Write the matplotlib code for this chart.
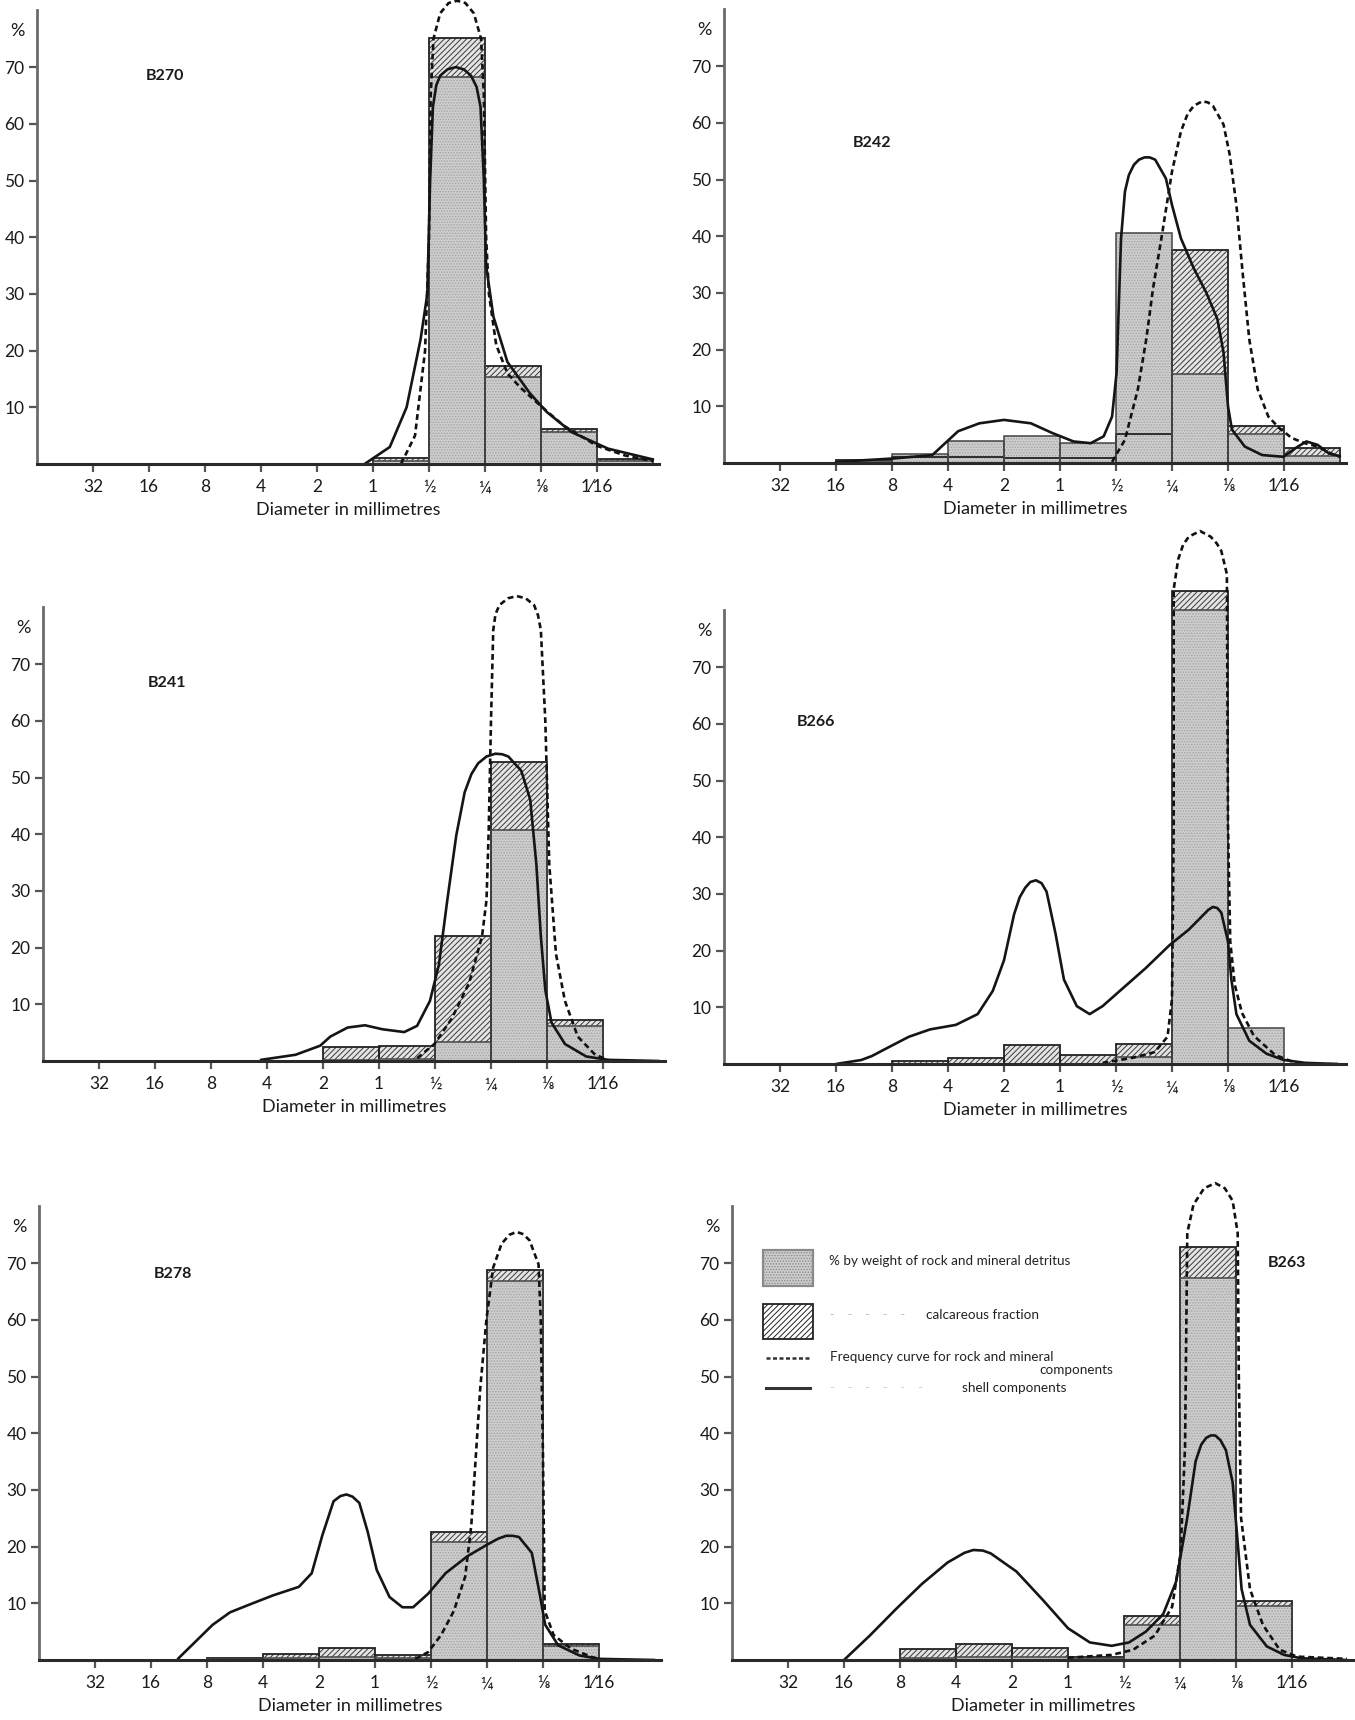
import matplotlib
matplotlib.use("Agg")
from matplotlib import pyplot as plt
from matplotlib.patches import Rectangle

plt.rcParams["font.family"] = ["Lato", "DejaVu Sans"]
plt.rcParams["hatch.linewidth"] = 0.7

# size classes in phi units: 32 mm = -5 ... 1/16 mm = 4
tick_phi = [-5, -4, -3, -2, -1, 0, 1, 2, 3, 4]
tick_labels = ["32", "16", "8", "4", "2", "1", "½", "¼", "⅛", "1⁄16"]
y_ticks = [10, 20, 30, 40, 50, 60, 70]

# B270
b270_class = [0, 1, 2, 3, 4]
b270_rock = [0.5, 68.3, 15.4, 5.6, 0.5]
b270_calc = [1.0, 75.1, 17.2, 6.2, 0.9]
b270_rock_x = [0.5, 0.75, 0.93, 1.0, 1.03, 1.08, 1.2, 1.35, 1.5, 1.65, 1.8, 1.93, 1.98, 2.02,
               2.07, 2.2, 2.4, 2.63, 3.0, 3.4, 4.0, 4.5, 5.0]
b270_rock_y = [0, 5, 20, 40, 65, 75, 79.5, 81.3, 81.7, 81.3, 79.5, 75, 65, 40,
               30, 21, 16, 13.5, 10.2, 6.8, 3.2, 1.5, 0.5]
b270_shell_x = [-0.15, 0.3, 0.6, 0.85, 0.97, 1.02, 1.07, 1.13, 1.2, 1.33, 1.48, 1.62, 1.75,
                1.85, 1.92, 1.98, 2.02, 2.15, 2.4, 2.8, 3.1, 3.55, 4.2, 5.0]
b270_shell_y = [0, 3, 10, 22, 30, 50, 63, 66.8, 68.5, 69.6, 70, 69.6, 68.5,
                66.5, 63, 50, 35, 26, 18, 12.5, 9.2, 5.6, 2.7, 0.8]

# B242
b242_class = [-4, -3, -2, -1, 0, 1, 2, 3, 4]
b242_rock = [0.3, 1.5, 3.8, 4.8, 3.5, 40.6, 15.7, 5.1, 1.2]
b242_calc = [0.6, 1.0, 1.0, 0.9, 0.9, 5.2, 37.6, 6.6, 2.6]
b242_rock_x = [0.93, 1.16, 1.39, 1.54, 1.66, 1.81, 2.0, 2.16, 2.28, 2.39, 2.54, 2.64, 2.73,
               2.92, 3.03, 3.15, 3.26, 3.38, 3.53, 3.72, 3.91, 4.14, 4.37, 4.6, 4.83, 5.0]
b242_rock_y = [0.2, 4.1, 13, 21.8, 30.7, 39.6, 51.4, 58.5, 61.6, 63, 63.8, 63.6, 63,
               59.7, 54.4, 45.5, 33.7, 21.8, 13, 8.2, 6.2, 4.4, 3.5, 2.9, 1.7, 1.1]
b242_shell_x = [-4.0, -2.97, -2.28, -2.05, -1.82, -1.44, -1.0, -0.52, -0.14, 0.24, 0.55, 0.78,
                0.93, 1.01, 1.05, 1.09, 1.16, 1.23, 1.32, 1.41, 1.51, 1.60, 1.70, 1.89, 2.0,
                2.16, 2.39, 2.61, 2.81, 2.92, 3.0, 3.07, 3.3, 3.61, 3.99, 4.2, 4.4, 4.6,
                4.8, 5.0]
b242_shell_y = [0.2, 0.8, 1.4, 3.5, 5.6, 7.0, 7.6, 7.0, 5.3, 3.8, 3.5, 4.7,
                8.2, 15.9, 27.8, 39.6, 47.9, 50.8, 52.6, 53.5, 53.9, 53.9, 53.5, 50.2, 45.5,
                39.6, 34.3, 30.1, 25.4, 19.5, 10.0, 5.9, 2.9, 1.4, 1.1, 2.6, 3.8, 3.2,
                1.7, 1.2]

# B241
b241_class = [-1, 0, 1, 2, 3]
b241_rock = [0.2, 0.3, 3.4, 40.7, 6.2]
b241_calc = [2.4, 2.7, 22.0, 52.8, 7.3]
b241_rock_x = [0.68, 0.99, 1.3, 1.61, 1.84, 1.92, 1.96, 2.0, 2.04, 2.08, 2.15, 2.3, 2.46,
               2.62, 2.77, 2.84, 2.89, 2.97, 3.04, 3.16, 3.32, 3.55, 3.86, 4.09]
b241_rock_y = [0.5, 3, 7.5, 13.8, 22, 28.4, 41, 60, 76, 78.8, 80.4, 81.6, 82,
               81.6, 80.4, 78.6, 76, 60, 34.7, 18.9, 10.6, 4.3, 1.1, 0.2]
b241_shell_x = [-2.11, -1.49, -1.05, -0.87, -0.56, -0.25, 0.06, 0.45, 0.68, 0.91, 1.07, 1.22,
                1.38, 1.53, 1.65, 1.77, 1.92, 2.08, 2.2, 2.31, 2.54, 2.7, 2.81, 2.89, 2.97,
                3.08, 3.32, 3.7, 4.09, 5.0]
b241_shell_y = [0.2, 1.1, 2.7, 4.3, 5.9, 6.3, 5.6, 5.1, 6.2, 10.6, 17, 28.4,
                39.8, 47.4, 50.6, 52.5, 53.7, 54.2, 54.1, 53.7, 51.2, 46.1, 34.7, 22, 12.5,
                6.8, 3.0, 0.8, 0.2, 0]

# B266
b266_class = [-3, -2, -1, 0, 1, 2, 3]
b266_rock = [0, 0, 0, 0, 1.2, 80.0, 6.3]
b266_calc = [0.5, 1.1, 3.4, 1.6, 3.6, 83.5, 0]
b266_rock_x = [0.76, 1.3, 1.69, 1.92, 2.0, 2.03, 2.03, 2.11, 2.2, 2.3, 2.5, 2.69, 2.8, 2.88,
               2.98, 3.0, 3.04, 3.12, 3.25, 3.46, 3.84, 4.15]
b266_rock_y = [0.2, 1.1, 2.1, 4.8, 11.5, 41.9, 83.7, 89, 91.6, 93, 94, 93, 91.8, 90.5,
               86.4, 42, 21.6, 14, 9, 5, 1.6, 0.4]
b266_shell_x = [-4.0, -3.55, -3.36, -3.09, -2.7, -2.32, -1.86, -1.47, -1.2, -1.0, -0.82, -0.72,
                -0.62, -0.53, -0.43, -0.33, -0.24, -0.08, 0.07, 0.3, 0.53, 0.76, 1.15, 1.53,
                1.96, 2.3, 2.53, 2.65, 2.73, 2.81, 2.88, 3.0, 3.06, 3.15, 3.38, 3.69, 4.0,
                4.38, 4.96]
b266_shell_y = [0, 0.7, 1.4, 2.8, 4.8, 6.1, 6.9, 8.8, 12.9, 18.3, 26.4, 29.4,
                31.1, 32.1, 32.4, 31.9, 30.4, 23, 14.9, 10.2, 8.8, 10.2, 13.6, 16.9,
                21, 23.7, 26, 27.2, 27.7, 27.5, 26.7, 21.6, 14.9, 8.8, 4.1, 1.8, 0.7,
                0.2, 0]

# B278
b278_class = [-3, -2, -1, 0, 1, 2, 3]
b278_rock = [0.2, 0.3, 0.5, 0.4, 20.8, 66.8, 2.5]
b278_calc = [0.4, 1.1, 2.1, 0.9, 22.6, 68.7, 2.9]
b278_rock_x = [0.72, 0.95, 1.18, 1.41, 1.61, 1.72, 1.8, 1.88, 1.99, 2.11, 2.26, 2.4, 2.53,
               2.65, 2.76, 2.92, 2.96, 3.0, 3.03, 3.19, 3.5, 3.88, 4.0]
b278_rock_y = [0.2, 1.4, 4.4, 8.7, 14.7, 23.8, 35.9, 48, 60.1, 69.2, 73.4, 75.0, 75.5,
               75.1, 74, 69.8, 60.1, 35.9, 8.7, 4.4, 2, 0.5, 0.2]
b278_shell_x = [-3.52, -3.21, -2.9, -2.59, -2.21, -1.82, -1.36, -1.13, -0.94, -0.74, -0.62,
                -0.51, -0.4, -0.28, -0.13, 0.03, 0.26, 0.49, 0.68, 0.95, 1.26, 1.65, 2.03,
                2.2, 2.34, 2.46, 2.57, 2.8, 2.94, 3.04, 3.27, 3.65, 4.0, 5.0]
b278_shell_y = [0.2, 3.2, 6.2, 8.4, 9.9, 11.4, 12.9, 15.3, 22, 28, 28.9,
                29.2, 28.8, 27.7, 22.6, 15.9, 11.1, 9.3, 9.3, 11.7, 15.3, 18.3, 20.5,
                21.4, 21.9, 21.9, 21.7, 18.9, 11.7, 6.2, 2.6, 0.8, 0.2, 0]

# B263
b263_class = [-3, -2, -1, 0, 1, 2, 3]
b263_rock = [0.3, 0.5, 0.6, 0.3, 6.2, 67.3, 9.5]
b263_calc = [1.9, 2.9, 2.1, 0.6, 7.8, 72.9, 10.4]
b263_rock_x = [0.0, 0.78, 1.16, 1.55, 1.86, 2.01, 2.09, 2.13, 2.24, 2.43, 2.63, 2.8, 2.94,
               3.03, 3.05, 3.09, 3.25, 3.48, 3.78, 4.09, 4.98]
b263_rock_y = [0.4, 0.9, 1.8, 4.3, 9.4, 18.8, 37.6, 75.3, 80.3, 83.2, 84.1, 83.2, 81,
               75.3, 50.2, 25.1, 12.5, 6.2, 1.8, 0.6, 0.2]
b263_shell_x = [-4.0, -3.54, -3.07, -2.61, -2.15, -1.85, -1.69, -1.52, -1.38, -0.92, -0.45,
                0.0, 0.39, 0.78, 1.09, 1.39, 1.7, 1.93, 2.13, 2.28, 2.38, 2.47, 2.55, 2.63,
                2.72, 2.82, 2.94, 3.02, 3.1, 3.25, 3.55, 3.86, 4.17, 4.98]
b263_shell_y = [0, 4.3, 9, 13.4, 17.2, 18.9, 19.4, 19.3, 18.8, 15.6, 10.6,
                5.6, 3.1, 2.5, 3.1, 5.0, 8.1, 13.8, 25.1, 35.1, 38.0, 39.2, 39.6, 39.6,
                38.8, 37, 31.3, 21.9, 12.5, 6.2, 2.4, 0.9, 0.3, 0]

ROCK_FACE = "#cdcdcd"
ROCK_DOTS = "#a5a5a5"
CALC_FACE = "#e4e4e4"
CALC_HATCH = "#3a3a3a"
DASHES = (2.2, 1.4)


def draw_panel(ax, name, name_xy, classes, rock, calc, rx, ry, sx, sy):
    ax.set_xlim(-6, 5.1)
    ax.set_ylim(0, 80)

    # calcareous fraction behind, rock and mineral detritus in front
    ax.bar(classes, calc, width=1, align="edge", color=CALC_FACE, edgecolor=CALC_HATCH,
           hatch="//////", linewidth=0, zorder=1, clip_on=False)
    ax.bar(classes, rock, width=1, align="edge", color=ROCK_FACE, edgecolor=ROCK_DOTS,
           hatch="......", linewidth=0, zorder=2, clip_on=False)
    ax.bar(classes, calc, width=1, align="edge", fill=False, edgecolor="#222222",
           linewidth=1.3, zorder=3, clip_on=False)
    ax.bar(classes, rock, width=1, align="edge", fill=False, edgecolor="#444444",
           linewidth=1.1, zorder=3, clip_on=False)

    ax.plot(rx, ry, color="#111111", lw=1.9, dashes=DASHES, zorder=5, clip_on=False)
    ax.plot(sx, sy, color="#151515", lw=1.9, zorder=5, clip_on=False,
            solid_capstyle="round", solid_joinstyle="round")

    for side in ("top", "right"):
        ax.spines[side].set_visible(False)
    ax.spines["left"].set_color("#6a6a6a")
    ax.spines["left"].set_linewidth(2.0)
    ax.spines["bottom"].set_color("#2a2a2a")
    ax.spines["bottom"].set_linewidth(2.2)
    ax.spines["bottom"].set_zorder(6)

    ax.set_xticks(tick_phi)
    ax.set_xticklabels(tick_labels)
    ax.set_yticks(y_ticks)
    ax.tick_params(axis="both", direction="out", length=6, width=1.6, colors="#555555",
                   labelcolor="#1a1a1a", labelsize=12.5)
    ax.tick_params(axis="y", pad=3)
    ax.tick_params(axis="x", pad=5)
    ax.set_xlabel("Diameter in millimetres", fontsize=13, color="#1a1a1a", labelpad=5)
    ax.text(-0.032, 76.3, "%", transform=ax.get_yaxis_transform(), fontsize=13,
            ha="center", va="center", color="#1a1a1a")
    ax.text(name_xy[0], name_xy[1], name, fontsize=11.5, fontweight="bold",
            ha="center", va="center", color="#1a1a1a")
    ax.set_facecolor("none")


W, H = 1355, 1720
fig = plt.figure(figsize=(W / 100, H / 100), dpi=100)

# axes frames in pixels: left edge and baseline
frames = [
    (37, 464), (724, 463),
    (43, 1061), (724, 1064),
    (39, 1660), (732, 1660),
]
unit_x = 56.0
unit_y = 5.67
axes = []
for left, base in frames:
    w = 11.1 * unit_x
    h = 80 * unit_y
    axes.append(fig.add_axes([left / W, 1 - base / H, w / W, h / H]))

draw_panel(axes[0], "B270", (-3.72, 68.5), b270_class, b270_rock, b270_calc,
           b270_rock_x, b270_rock_y, b270_shell_x, b270_shell_y)
draw_panel(axes[1], "B242", (-3.35, 56.5), b242_class, b242_rock, b242_calc,
           b242_rock_x, b242_rock_y, b242_shell_x, b242_shell_y)
draw_panel(axes[2], "B241", (-3.78, 66.7), b241_class, b241_rock, b241_calc,
           b241_rock_x, b241_rock_y, b241_shell_x, b241_shell_y)
draw_panel(axes[3], "B266", (-4.36, 60.4), b266_class, b266_rock, b266_calc,
           b266_rock_x, b266_rock_y, b266_shell_x, b266_shell_y)
draw_panel(axes[4], "B278", (-3.6, 68.0), b278_class, b278_rock, b278_calc,
           b278_rock_x, b278_rock_y, b278_shell_x, b278_shell_y)
draw_panel(axes[5], "B263", (3.91, 70.0), b263_class, b263_rock, b263_calc,
           b263_rock_x, b263_rock_y, b263_shell_x, b263_shell_y)

# key drawn inside the B263 panel
ax = axes[5]
ax.add_patch(Rectangle((-5.44, 65.9), 0.88, 6.4, facecolor=ROCK_FACE, edgecolor="#8a8a8a",
                       hatch="......", linewidth=1.6, zorder=4))
ax.add_patch(Rectangle((-5.44, 56.6), 0.88, 6.1, facecolor="white", edgecolor="#222222",
                       hatch="//////", linewidth=1.3, zorder=4))
ax.plot([-5.4, -4.6], [53.3, 53.3], color="#333333", lw=1.8, dashes=(1.6, 1.0))
ax.plot([-5.4, -4.6], [47.9, 47.9], color="#333333", lw=2.2)
key_font = dict(fontsize=9.7, color="#222222", va="center")
ax.text(-4.27, 70.4, "% by weight of rock and mineral detritus", **key_font)
ax.text(-4.25, 60.8, "-    -    -    -    -", fontsize=9, color="#bdbdbd", va="center")
ax.text(-2.53, 60.8, "calcareous fraction", **key_font)
ax.text(-4.25, 53.4, "Frequency curve for rock and mineral", **key_font)
ax.text(0.8, 51.2, "components", ha="right", fontsize=9.7, color="#222222", va="center")
ax.text(-4.25, 47.9, "-    -    -    -    -    -", fontsize=9, color="#cfcfcf", va="center")
ax.text(-1.9, 47.9, "shell components", **key_font)

fig.savefig("out.png", dpi=100, facecolor="white")
